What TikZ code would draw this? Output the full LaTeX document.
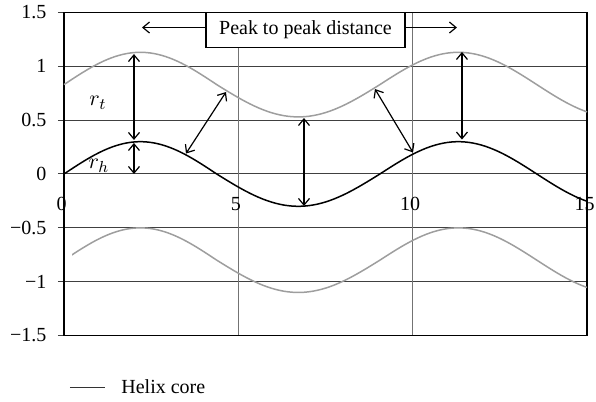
\documentclass[tikz,border=0pt]{standalone}
\usepackage{fontspec}
\setmainfont{Liberation Serif}
\usetikzlibrary{arrows.meta}

% helix core, three half waves fitted to the zero crossings
\newcommand{\helixcore}{plot[domain=0:4.38, samples=40] (\x,{0.3*sin(180*\x/4.38)}) -- plot[domain=4.38:9.06, samples=40] (\x,{-0.3*sin(180*(\x-4.38)/4.68)}) -- plot[domain=9.06:15, samples=50] (\x,{0.3*sin(180*(\x-9.06)/4.5)})}

\begin{document}
\begin{tikzpicture}[x=17.435pt, y=53.85pt, font=\fontsize{10}{12}\selectfont, frame style/.style={black, line width=0.6pt}, grid style/.style={black!75, line width=0.5pt}, vgrid style/.style={black!55, line width=0.5pt}, core style/.style={black, line width=0.75pt}, shell style/.style={black!38, line width=0.75pt}, dist arrow/.style={{Straight Barb[length=3.3pt,width=5.5pt]}-{Straight Barb[length=3.3pt,width=5.5pt]}, line width=0.6pt}, one arrow/.style={-{Straight Barb[length=3.3pt,width=5.5pt]}, line width=0.6pt}, label box/.style={draw, line width=0.6pt, fill=white, minimum width=99.5pt, minimum height=17.5pt, inner sep=0pt}]

    \useasboundingbox (-1.835,-2.117) rectangle (15.258,1.6156);

    % =========================================================================
    % Ejes y rejilla
    % =========================================================================
    \foreach \y in {-1.5,-1,-0.5,0,0.5,1,1.5}
        \draw[grid style] (-0.172,\y) -- (0,\y);
    \foreach \y in {-1,-0.5,0,0.5,1}
        \draw[grid style] (0,\y) -- (15,\y);
    \draw[vgrid style] (5,-1.5) -- (5,1.5);
    \draw[vgrid style] (10,-1.5) -- (10,1.5);
    \draw[frame style] (0,-1.5) rectangle (15,1.5);

    % Etiquetas
    \foreach \y/\t [count=\i] in {1.5/1.5, 1/1, 0.5/0.5, 0/0, -0.5/−0.5, -1/−1, -1.5/−1.5}
        \node[anchor=east, inner sep=0pt] (ylab\i) at (-0.49,\y) {\t};
    \foreach \x [count=\i] in {0,5,10,15}
        \node[inner sep=0pt] (xlab\i) at (\x-0.07,-0.28) {\x};

    % =========================================================================
    % Curvas
    % =========================================================================
    \draw[shell style, shift={(0,0.83)}] \helixcore;
    \begin{scope}
        \clip (0.23,-1.5) rectangle (15,0);
        \draw[shell style, shift={(0,-0.8)}] \helixcore;
    \end{scope}
    \draw[core style] \helixcore;

    % =========================================================================
    % Distancias
    % =========================================================================
    \coordinate (pkAtop) at (2.007,1.114); \coordinate (pkAbot) at (2.007,0.316);
    \coordinate (rhtop) at (2.007,0.288); \coordinate (rhbot) at (2.007,0.0);
    \coordinate (dAlow) at (3.499,0.19); \coordinate (dAup) at (4.646,0.761);
    \coordinate (trtop) at (6.883,0.52); \coordinate (trbot) at (6.883,-0.297);
    \coordinate (dBup) at (8.919,0.789); \coordinate (dBlow) at (10.009,0.2);
    \coordinate (pkBtop) at (11.414,1.133); \coordinate (pkBbot) at (11.414,0.32);
    \coordinate (ltip) at (2.237,1.36); \coordinate (rtip) at (11.27,1.36);

    \draw[dist arrow] (pkAtop) -- (pkAbot);
    \draw[dist arrow] (rhtop) -- (rhbot);
    \draw[dist arrow] (dAlow) -- (dAup);
    \draw[dist arrow] (trtop) -- (trbot);
    \draw[dist arrow] (dBup) -- (dBlow);
    \draw[dist arrow] (pkBtop) -- (pkBbot);

    \node[label box] (ptp) at (6.926,1.3375) {Peak to peak distance};
    \draw[one arrow] (ptp.west |- ltip) -- (ltip);
    \draw[one arrow] (ptp.east |- rtip) -- (rtip);

    \node[font=\fontsize{11}{12}\selectfont] (rt) at (0.975,0.66) {$r_t$};
    \node[font=\fontsize{11}{12}\selectfont] (rh) at (1.0,0.074) {$r_h$};

    % Leyenda
    \coordinate (legA) at (0.17,-1.978);
    \coordinate (legB) at (1.176,-1.978);
    \draw[black!80, line width=0.5pt] (legA) -- (legB);
    \node[anchor=west, inner sep=0pt] (legtext) at (1.635,-1.972) {Helix core};

\end{tikzpicture}
\end{document}
